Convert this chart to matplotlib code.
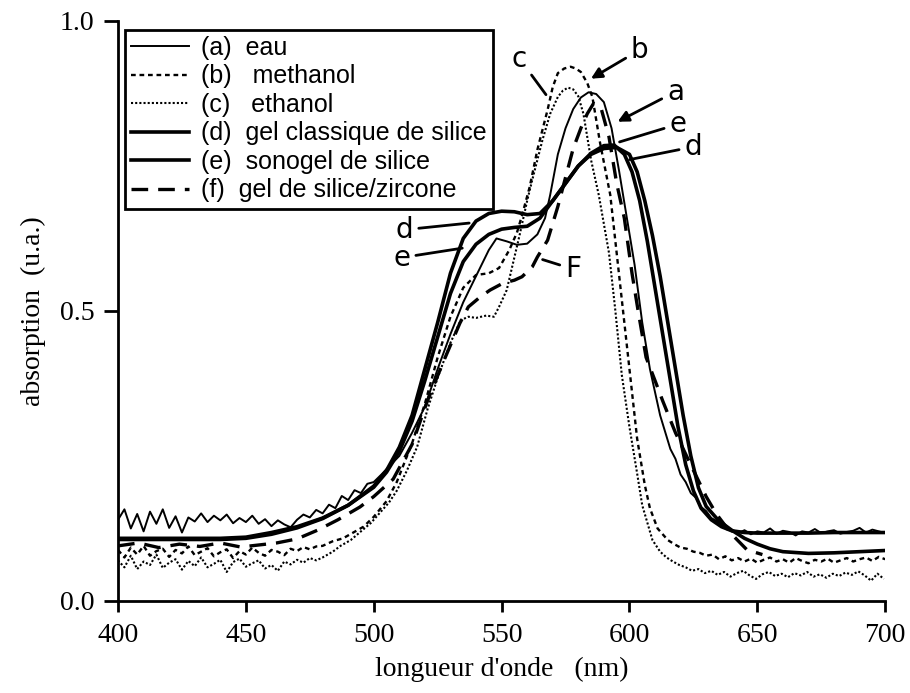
import numpy as np
import matplotlib
matplotlib.use('Agg')
import matplotlib.pyplot as plt

# (a) eau - thin solid, noisy baseline
a_left_wl = np.arange(400, 500, 2.5)
a_left = [0.140, 0.158, 0.125, 0.150, 0.120, 0.154, 0.133, 0.158, 0.126, 0.146,
          0.118, 0.144, 0.137, 0.151, 0.136, 0.147, 0.139, 0.149, 0.134, 0.143,
          0.136, 0.147, 0.133, 0.141, 0.129, 0.139, 0.132, 0.127, 0.140, 0.149,
          0.144, 0.157, 0.151, 0.166, 0.160, 0.181, 0.174, 0.191, 0.186, 0.202]
a_mid_wl = [500, 503, 506, 510, 515, 520, 525, 530, 535, 540, 545, 548, 552, 556, 560,
            564, 567, 569, 572, 575, 578, 581, 584, 587, 590, 593, 596, 599, 602, 605,
            608, 612, 616, 618, 620, 622, 624, 626, 628, 630, 632, 634, 636, 638]
a_mid = [0.205, 0.218, 0.232, 0.250, 0.290, 0.335, 0.400, 0.460, 0.515, 0.560, 0.605,
         0.625, 0.620, 0.614, 0.616, 0.632, 0.660, 0.700, 0.770, 0.815, 0.848, 0.868,
         0.877, 0.874, 0.860, 0.815, 0.740, 0.660, 0.580, 0.480, 0.400, 0.320, 0.262,
         0.245, 0.218, 0.205, 0.186, 0.178, 0.162, 0.155, 0.143, 0.138, 0.130, 0.126]
a_right_wl = np.arange(640, 702.5, 2.5)
a_right = [0.120, 0.117, 0.122, 0.115, 0.120, 0.118, 0.125, 0.116, 0.121, 0.119,
           0.113, 0.120, 0.118, 0.124, 0.117, 0.120, 0.122, 0.116, 0.119, 0.121,
           0.126, 0.118, 0.123, 0.120, 0.117]

# (b) methanol
b_left_wl = np.arange(400, 480, 2.5)
b_left = [0.088, 0.075, 0.092, 0.080, 0.095, 0.078, 0.086, 0.090, 0.076, 0.088,
          0.082, 0.094, 0.079, 0.085, 0.091, 0.077, 0.084, 0.089, 0.074, 0.086,
          0.080, 0.092, 0.083, 0.078, 0.088, 0.085, 0.079, 0.090, 0.086, 0.093,
          0.089, 0.094]
b_mid_wl = [480, 484, 488, 492, 496, 500, 505, 509, 515, 520, 525, 530, 535, 540, 545,
            549, 553, 556, 558, 561, 564, 568, 570, 572, 574.5, 577, 579, 581, 583.5,
            585.5, 588.5, 592.5, 595, 597.5, 600, 603, 606, 608, 611]
b_mid = [0.095, 0.103, 0.108, 0.118, 0.128, 0.145, 0.172, 0.205, 0.272, 0.340, 0.420,
         0.490, 0.540, 0.562, 0.565, 0.574, 0.605, 0.635, 0.665, 0.714, 0.778, 0.847,
         0.886, 0.910, 0.918, 0.921, 0.918, 0.912, 0.893, 0.869, 0.790, 0.700, 0.600,
         0.500, 0.400, 0.280, 0.200, 0.160, 0.125]
b_right_wl = np.arange(615, 702.5, 2.5)
b_right = [0.105, 0.098, 0.092, 0.090, 0.085, 0.083, 0.078, 0.080, 0.072, 0.077,
           0.070, 0.074, 0.068, 0.073, 0.066, 0.071, 0.075, 0.068, 0.072, 0.066,
           0.074, 0.069, 0.065, 0.071, 0.068, 0.073, 0.066, 0.070, 0.074, 0.068,
           0.072, 0.075, 0.069, 0.076, 0.072]

# (c) ethanol
c_left_wl = np.arange(400, 480, 2.5)
c_left = [0.070, 0.058, 0.078, 0.055, 0.068, 0.062, 0.080, 0.057, 0.066, 0.072,
          0.054, 0.069, 0.060, 0.075, 0.058, 0.064, 0.071, 0.050, 0.067, 0.073,
          0.059, 0.065, 0.070, 0.056, 0.062, 0.052, 0.068, 0.063, 0.071, 0.066,
          0.074, 0.070]
c_mid_wl = [480, 484, 487, 491, 495, 499, 502, 506, 509, 513, 517, 521, 525, 530, 534,
            537, 540, 544, 547, 549, 552, 554.5, 557, 560, 562, 566, 569, 572, 574, 576,
            578, 580, 582, 585, 588, 592, 594.5, 597, 600, 603, 605, 609]
c_mid = [0.075, 0.085, 0.095, 0.105, 0.120, 0.135, 0.150, 0.170, 0.190, 0.225, 0.266,
         0.330, 0.385, 0.445, 0.484, 0.490, 0.488, 0.492, 0.490, 0.507, 0.536, 0.583,
         0.630, 0.690, 0.726, 0.795, 0.840, 0.869, 0.880, 0.885, 0.882, 0.870, 0.840,
         0.760, 0.700, 0.600, 0.500, 0.390, 0.300, 0.220, 0.165, 0.105]
c_right_wl = np.arange(612, 701, 2.5)
c_right = [0.085, 0.075, 0.068, 0.062, 0.058, 0.052, 0.055, 0.048, 0.052, 0.045,
           0.050, 0.042, 0.048, 0.052, 0.044, 0.038, 0.046, 0.050, 0.043, 0.047,
           0.041, 0.048, 0.044, 0.050, 0.042, 0.046, 0.040, 0.047, 0.043, 0.049,
           0.045, 0.051, 0.044, 0.035, 0.047, 0.038]

# (d) gel classique de silice
d_wl = [400, 420, 440, 450, 460, 470, 480, 490, 500, 505, 510, 515, 520, 525, 530, 535,
        540, 545, 550, 555, 560, 565, 570, 575, 580, 585, 590, 595, 600, 603, 606, 609,
        612, 615, 618, 621, 624, 627, 630, 635, 640, 645, 650, 655, 660, 670, 680, 690, 700]
d_abs = [0.108, 0.108, 0.108, 0.110, 0.118, 0.128, 0.143, 0.165, 0.198, 0.225, 0.265,
         0.320, 0.400, 0.480, 0.565, 0.625, 0.655, 0.668, 0.672, 0.671, 0.666, 0.668,
         0.690, 0.720, 0.750, 0.770, 0.780, 0.782, 0.770, 0.740, 0.690, 0.630, 0.560,
         0.480, 0.400, 0.320, 0.250, 0.195, 0.163, 0.138, 0.122, 0.108, 0.098, 0.090,
         0.085, 0.082, 0.083, 0.085, 0.087]

# (e) sonogel de silice
e_wl = [400, 420, 440, 450, 460, 470, 480, 490, 500, 505, 510, 515, 520, 525, 530, 535,
        540, 545, 550, 555, 560, 565, 570, 575, 580, 585, 590, 594, 598, 601, 604, 607,
        610, 613, 616, 619, 622, 625, 628, 632, 636, 640, 645, 650, 660, 670, 680, 690, 700]
e_abs = [0.106, 0.106, 0.106, 0.108, 0.115, 0.126, 0.142, 0.165, 0.196, 0.222, 0.258,
         0.310, 0.380, 0.455, 0.530, 0.585, 0.615, 0.632, 0.641, 0.644, 0.646, 0.660,
         0.690, 0.720, 0.750, 0.772, 0.785, 0.786, 0.770, 0.740, 0.690, 0.620, 0.540,
         0.460, 0.380, 0.300, 0.235, 0.190, 0.160, 0.140, 0.128, 0.121, 0.118, 0.117,
         0.117, 0.117, 0.118, 0.118, 0.118]

# (f) gel de silice/zircone
f_wl = [400, 408, 416, 424, 432, 440, 448, 456, 462, 470, 478, 486, 494.6, 500, 507.6,
        515, 521, 527, 533.7, 537, 541.6, 545.5, 550.6, 555, 558, 562, 564, 568, 572,
        575, 578, 581, 583.5, 586, 589, 592, 595, 598, 601, 603.4, 606.5, 610, 613, 618,
        624.5, 630, 634, 640, 646, 652]
f_abs = [0.095, 0.100, 0.092, 0.098, 0.094, 0.100, 0.093, 0.097, 0.100, 0.107, 0.122,
         0.140, 0.162, 0.180, 0.210, 0.270, 0.345, 0.410, 0.479, 0.507, 0.524, 0.536,
         0.548, 0.553, 0.559, 0.576, 0.593, 0.622, 0.680, 0.730, 0.780, 0.815, 0.840,
         0.858, 0.848, 0.800, 0.720, 0.660, 0.565, 0.500, 0.420, 0.380, 0.345, 0.290,
         0.230, 0.180, 0.150, 0.115, 0.088, 0.080]

labels = ['(a)  eau', '(b)   methanol', '(c)   ethanol', '(d)  gel classique de silice',
          '(e)  sonogel de silice', '(f)  gel de silice/zircone']

a_wl = np.concatenate([a_left_wl, a_mid_wl, a_right_wl])
a_abs = np.concatenate([a_left, a_mid, a_right])
b_wl = np.concatenate([b_left_wl, b_mid_wl, b_right_wl])
b_abs = np.concatenate([b_left, b_mid, b_right])
c_wl = np.concatenate([c_left_wl, c_mid_wl, c_right_wl])
c_abs = np.concatenate([c_left, c_mid, c_right])

fig = plt.figure(figsize=(9.1, 6.93), dpi=100)
ax = fig.add_axes([0.1297, 0.1328, 0.843, 0.837])

ax.plot(a_wl, a_abs, color='black', lw=1.4, label=labels[0])
ax.plot(b_wl, b_abs, color='black', lw=1.7, ls=(0, (2, 1.6)), label=labels[1])
ax.plot(c_wl, c_abs, color='black', lw=1.5, ls=(0, (1, 1)), label=labels[2])
ax.plot(d_wl, d_abs, color='black', lw=2.6, label=labels[3])
ax.plot(e_wl, e_abs, color='black', lw=2.6, label=labels[4])
ax.plot(f_wl, f_abs, color='black', lw=2.4, ls=(0, (5, 3)), label=labels[5])

ax.set_xlim(400, 700)
ax.set_ylim(0, 1.0)
ax.set_xticks([400, 450, 500, 550, 600, 650, 700])
ax.set_yticks([0.0, 0.5, 1.0])
ax.set_yticklabels(['0.0', '0.5', '1.0'])
for s in ['top', 'right']:
    ax.spines[s].set_visible(False)
for s in ['left', 'bottom']:
    ax.spines[s].set_linewidth(2)
ax.tick_params(axis='both', direction='out', width=2, labelsize=20,
               labelfontfamily='Liberation Serif')
ax.tick_params(axis='x', length=8, pad=8)
ax.tick_params(axis='y', length=10, pad=7)

ax.set_xlabel("longueur d'onde   (nm)", fontsize=20, family='Liberation Serif', labelpad=6)
ax.set_ylabel('absorption  (u.a.)', fontsize=20, family='Liberation Serif', labelpad=10)

leg = ax.legend(loc='upper left', bbox_to_anchor=(0.009, 0.985),
                prop={'family': 'Liberation Sans', 'size': 18},
                handlelength=2.3, handletextpad=0.5, labelspacing=0.18,
                borderpad=0.25, borderaxespad=0, fancybox=False, framealpha=1)
leg.get_frame().set_edgecolor('black')
leg.get_frame().set_linewidth(2)

# hand-written marks
hand = dict(fontsize=20, color='black', family='DejaVu Sans', ha='center', va='center')
arr = dict(arrowstyle='-|>', color='black', lw=2, mutation_scale=16)
line = dict(arrowstyle='-', color='black', lw=2)
ax.annotate('c', xy=(568, 0.869), xytext=(557, 0.935), arrowprops=line, **hand)
ax.annotate('b', xy=(584, 0.898), xytext=(604, 0.95), arrowprops=arr, **hand)
ax.annotate('a', xy=(594.4, 0.824), xytext=(618, 0.878), arrowprops=arr, **hand)
ax.annotate('e', xy=(595.1, 0.79), xytext=(619, 0.822), arrowprops=line, **hand)
ax.annotate('d', xy=(599, 0.76), xytext=(625, 0.783), arrowprops=line, **hand)
ax.annotate('d', xy=(538.4, 0.652), xytext=(512, 0.64), arrowprops=line, **hand)
ax.annotate('e', xy=(535.7, 0.609), xytext=(511, 0.592), arrowprops=line, **hand)
ax.annotate('F', xy=(565, 0.59), xytext=(578, 0.572), arrowprops=line, **hand)

plt.savefig('out.png', dpi=100)
